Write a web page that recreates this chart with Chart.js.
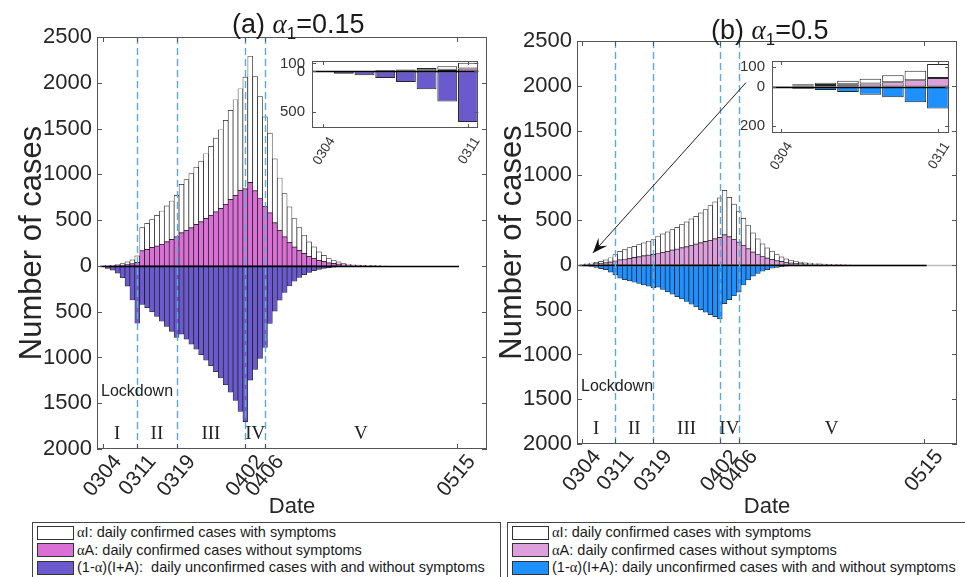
<!DOCTYPE html>
<html>
<head>
<meta charset="utf-8">
<script src="https://cdn.jsdelivr.net/npm/chart.js@4.4.1/dist/chart.umd.min.js"></script>
<style>
  body { margin: 0; background: #fff; width: 965px; height: 577px; overflow: hidden; position: relative;
         font-family: "Liberation Sans", Arial, sans-serif; color: #1a1a1a; }
  canvas { position: absolute; }
  .title { position: absolute; font-size: 27px; white-space: nowrap; line-height: 30px; }
  .title sub { font-size: 17px; }
  .greek { font-family: "Liberation Serif", serif; font-style: italic; }
  .legend { position: absolute; border: 1px solid #444; background: #fff; font-size: 14.5px; padding-top: 1px; }
  .row { height: 17.5px; display: flex; align-items: center; white-space: nowrap; }
  .sw { display: inline-block; width: 35px; height: 12px; border: 1px solid #333; margin: 0 3px 0 4px; }
  .legend .greek { font-style: normal; }
</style>
</head>
<body>
<canvas id="mainA" width="500" height="520" style="left:0;top:0"></canvas>
<canvas id="mainB" width="485" height="520" style="left:480px;top:0"></canvas>
<canvas id="insetA" width="210" height="130" style="left:278px;top:45px"></canvas>
<canvas id="insetB" width="220" height="130" style="left:738px;top:45px"></canvas>

<div class="title" style="left:232px;top:9px">(a) <span class="greek">α</span><sub>1</sub>=0.15</div>
<div class="title" style="left:711px;top:15px">(b) <span class="greek">α</span><sub>1</sub>=0.5</div>

<div class="legend" style="left:32px;top:522px;width:467px;height:60px">
  <div class="row"><span class="sw" style="background:#ffffff"></span><span><span class="greek">α</span>I: daily confirmed cases with symptoms</span></div>
  <div class="row"><span class="sw" style="background:#da70d6"></span><span><span class="greek">α</span>A: daily confirmed cases without symptoms</span></div>
  <div class="row"><span class="sw" style="background:#6a5acd"></span><span>(1-<span class="greek">α</span>)(I+A):&nbsp; daily unconfirmed cases with and without symptoms</span></div>
</div>
<div class="legend" style="left:507px;top:522px;width:470px;height:60px">
  <div class="row"><span class="sw" style="background:#ffffff"></span><span><span class="greek">α</span>I: daily confirmed cases with symptoms</span></div>
  <div class="row"><span class="sw" style="background:#dda0dd"></span><span><span class="greek">α</span>A: daily confirmed cases without symptoms</span></div>
  <div class="row"><span class="sw" style="background:#1e90ff"></span><span>(1-<span class="greek">α</span>)(I+A): daily unconfirmed cases with and without symptoms</span></div>
</div>

<script>
// ? DATA
// ! ========================== ! \\
const dates = [
  "0304","0305","0306","0307","0308","0309","0310","0311","0312","0313",
  "0314","0315","0316","0317","0318","0319","0320","0321","0322","0323",
  "0324","0325","0326","0327","0328","0329","0330","0331","0401","0402",
  "0403","0404","0405","0406","0407","0408","0409","0410","0411","0412",
  "0413","0414","0415","0416","0417","0418","0419","0420","0421","0422",
  "0423","0424","0425","0426","0427","0428","0429","0430","0501","0502",
  "0503","0504","0505","0506","0507","0508","0509","0510","0511","0512",
  "0513","0514","0515"
];
const tickDates = ["0304", "0311", "0319", "0402", "0406", "0515"];
const phaseDates = ["0311", "0319", "0402", "0406"];
const phaseNames = ["I", "II", "III", "IV", "V"];
const insetDates = ["0304", "0311"];

// (a) alpha1 = 0.15
const symA = [
  0, 3, 4, 9, 16, 28, 43, 73, 254, 287,
  305, 338, 364, 393, 422, 455, 531, 553, 592, 629,
  665, 709, 752, 807, 862, 916, 974, 1044, 1110, 1222,
  1381, 1248, 1114, 976, 873, 701, 571, 474, 387, 310,
  251, 201, 157, 124, 92, 70, 48, 37, 26, 15,
  11, 7, 5, 4, 2, 2, 1, 1, 0, 0,
  0, 0, 0, 0, 0, 0, 0, 0, 0, 0,
  0, 0, 0
];
const asymA = [
  0, 1, 3, 5, 9, 15, 22, 36, 164, 178,
  200, 215, 236, 262, 287, 316, 360, 389, 415, 451,
  480, 516, 553, 589, 625, 673, 724, 771, 825, 840,
  909, 820, 736, 651, 578, 469, 389, 316, 258, 206,
  167, 134, 105, 83, 61, 46, 32, 25, 18, 10,
  7, 5, 4, 2, 2, 1, 1, 0, 0, 0,
  0, 0, 0, 0, 0, 0, 0, 0, 0, 0,
  0, 0, 0
];
const unconfA = [
  3, 29, 47, 80, 130, 221, 373, 627, 420, 455,
  502, 552, 605, 660, 715, 780, 745, 800, 855, 910,
  970, 1030, 1090, 1155, 1225, 1300, 1380, 1470, 1590, 1702,
  1247, 1131, 1011, 891, 629, 495, 375, 290, 220, 168,
  127, 95, 71, 52, 38, 27, 19, 13, 9, 6,
  4, 3, 2, 1, 1, 0, 0, 0, 0, 0,
  0, 0, 0, 0, 0, 0, 0, 0, 0, 0,
  0, 0, 0
];

// (b) alpha1 = 0.5
const symB = [
  0, 7, 12, 17, 24, 35, 48, 72, 97, 108,
  119, 126, 138, 145, 156, 168, 190, 205, 216, 230,
  245, 260, 279, 297, 312, 334, 357, 387, 413, 443,
  497, 441, 395, 343, 303, 259, 214, 174, 140, 114,
  92, 69, 53, 40, 31, 25, 18, 13, 12, 9,
  7, 5, 4, 2, 2, 1, 1, 0, 0, 0,
  0, 0, 0, 0, 0, 0, 0, 0, 0, 0,
  0, 0, 0
];
const asymB = [
  0, 5, 8, 12, 16, 22, 32, 43, 55, 63,
  74, 82, 89, 100, 108, 115, 130, 141, 152, 164,
  175, 190, 201, 216, 231, 246, 260, 275, 290, 305,
  335, 313, 283, 253, 216, 180, 143, 116, 94, 76,
  61, 46, 36, 27, 21, 16, 12, 9, 7, 6,
  4, 3, 2, 2, 1, 1, 0, 0, 0, 0,
  0, 0, 0, 0, 0, 0, 0, 0, 0, 0,
  0, 0, 0
];
const unconfB = [
  2, 11, 18, 28, 41, 54, 80, 112, 149, 164,
  179, 194, 208, 223, 238, 257, 249, 275, 301, 327,
  354, 380, 409, 439, 469, 499, 528, 555, 577, 603,
  432, 387, 345, 305, 225, 168, 125, 95, 70, 52,
  38, 28, 20, 14, 10, 7, 5, 3, 2, 1,
  1, 0, 0, 0, 0, 0, 0, 0, 0, 0,
  0, 0, 0, 0, 0, 0, 0, 0, 0, 0,
  0, 0, 0
];

Chart.defaults.font.family = "'Liberation Sans', Arial, sans-serif";
Chart.defaults.color = "#262626";

const tickColor = "#262626";
const edge = "rgba(0,0,0,0.85)";
const dashBlue = "#5aa9e0";

// ? HELPERS
// ! ========================== ! \\
function makeSets(sym, asym, unconf, pink, dark, count, pct, bw) {
  const pts = (arr, sign) => arr.slice(0, count).map((v, k) => ({ x: k, y: sign * v }));
  const base = { borderColor: edge, borderWidth: bw, borderSkipped: false,
                 barPercentage: pct, categoryPercentage: 1, stack: "s" };
  return [
    { ...base, label: "αA", data: pts(asym, 1), backgroundColor: pink },
    { ...base, label: "αI", data: pts(sym, 1), backgroundColor: "#ffffff" },
    { ...base, label: "(1-α)(I+A)", data: pts(unconf, -1), backgroundColor: dark },
  ];
}

function line(ctx, x1, y1, x2, y2) {
  ctx.beginPath();
  ctx.moveTo(x1, y1);
  ctx.lineTo(x2, y2);
  ctx.stroke();
}

// white plot area, box and inward tick marks
const framePlugin = {
  id: "frame",
  beforeDatasetsDraw(chart) {
    const { ctx, chartArea: a } = chart;
    ctx.save();
    ctx.fillStyle = "#fff";
    ctx.fillRect(a.left, a.top, a.right - a.left, a.bottom - a.top);
    ctx.restore();
  },
  afterDraw(chart, args, opts) {
    const { ctx, chartArea: a, scales: { x, y } } = chart;
    const t = opts.tick || 5;
    ctx.save();
    ctx.strokeStyle = "#555";
    ctx.lineWidth = 1;
    ctx.strokeRect(Math.round(a.left) + 0.5, Math.round(a.top) + 0.5,
                   Math.round(a.right - a.left) - 1, Math.round(a.bottom - a.top) - 1);
    x.ticks.forEach((tk) => {
      const p = Math.round(x.getPixelForValue(tk.value)) + 0.5;
      line(ctx, p, a.bottom, p, a.bottom - t);
      line(ctx, p, a.top, p, a.top + t);
    });
    y.ticks.forEach((tk) => {
      const p = Math.round(y.getPixelForValue(tk.value)) + 0.5;
      line(ctx, a.left, p, a.left + t, p);
      line(ctx, a.right, p, a.right - t, p);
    });
    ctx.restore();
  },
};

// zero line, phase lines, phase names, arrow
const marksPlugin = {
  id: "marks",
  afterDatasetsDraw(chart, args, o) {
    const { ctx, chartArea: a, scales: { x, y } } = chart;
    const y0 = Math.round(y.getPixelForValue(0)) + 0.5;
    const n = chart.data.datasets[0].data.length;
    ctx.save();
    ctx.lineWidth = 1.3;
    if (o.tail) {
      ctx.strokeStyle = "#bbb";
      line(ctx, a.left, y0, a.right, y0);
    }
    ctx.strokeStyle = "#000";
    const xa = o.full ? a.left : x.getPixelForValue(-0.5);
    const xb = o.full ? a.right : x.getPixelForValue(n - 0.5);
    line(ctx, xa, y0, xb, y0);

    if (o.phases) {
      ctx.strokeStyle = dashBlue;
      ctx.lineWidth = 1.4;
      ctx.setLineDash([7, 4]);
      phaseDates.forEach((d) => {
        const px = Math.round(x.getPixelForValue(dates.indexOf(d))) + 0.5;
        line(ctx, px, a.top, px, a.bottom);
      });
      ctx.setLineDash([]);

      const bounds = [x.min, ...phaseDates.map((d) => dates.indexOf(d)), dates.length - 1];
      ctx.fillStyle = "#222";
      ctx.font = '19px "Liberation Serif", serif';
      ctx.textAlign = "center";
      ctx.textBaseline = "middle";
      phaseNames.forEach((name, i) => {
        ctx.fillText(name, x.getPixelForValue((bounds[i] + bounds[i + 1]) / 2), a.bottom - 15);
      });
      ctx.font = '16px "Liberation Sans", Arial, sans-serif';
      ctx.textAlign = "left";
      ctx.fillText("Lockdown", a.left + 4, a.bottom - 57);
    }

    if (o.arrow) {
      const x1 = x.getPixelForValue(o.arrow.from[0]), y1 = y.getPixelForValue(o.arrow.from[1]);
      const x2 = x.getPixelForValue(o.arrow.to[0]), y2 = y.getPixelForValue(o.arrow.to[1]);
      const ang = Math.atan2(y2 - y1, x2 - x1);
      ctx.strokeStyle = "#222";
      ctx.fillStyle = "#111";
      ctx.lineWidth = 1;
      line(ctx, x1, y1, x2, y2);
      const L = 15, W = 6;
      ctx.beginPath();
      ctx.moveTo(x2, y2);
      ctx.lineTo(x2 - L * Math.cos(ang) + W * Math.sin(ang), y2 - L * Math.sin(ang) - W * Math.cos(ang));
      ctx.lineTo(x2 - 0.6 * L * Math.cos(ang), y2 - 0.6 * L * Math.sin(ang));
      ctx.lineTo(x2 - L * Math.cos(ang) - W * Math.sin(ang), y2 - L * Math.sin(ang) + W * Math.cos(ang));
      ctx.closePath();
      ctx.fill();
    }
    ctx.restore();
  },
};

// ? MAIN PANELS
// ! ========================== ! \\
function mainChart(id, c) {
  return new Chart(document.getElementById(id), {
    type: "bar",
    data: { datasets: makeSets(c.sym, c.asym, c.unconf, c.pink, c.dark, dates.length, 1, 0.7) },
    options: {
      responsive: false,
      animation: false,
      events: [],
      layout: { padding: c.pad },
      plugins: {
        legend: { display: false },
        tooltip: { enabled: false },
        frame: { tick: 5 },
        marks: { phases: true, tail: c.tail, arrow: c.arrow },
      },
      scales: {
        x: {
          type: "linear", stacked: true, offset: false, min: c.xmin, max: c.xmax,
          afterBuildTicks: (s) => { s.ticks = tickDates.map((d) => ({ value: dates.indexOf(d) })); },
          afterFit: (s) => { s.height = c.xh; },
          grid: { display: false, drawTicks: false },
          border: { display: false },
          ticks: { autoSkip: false, minRotation: 50, maxRotation: 50, padding: 1, labelOffset: 15,
                   font: { size: 21 }, color: tickColor, callback: (v) => dates[v] },
          title: { display: true, text: "Date", font: { size: 22 }, color: tickColor, padding: { top: 0, bottom: 0 } },
        },
        y: {
          stacked: true, min: -2000, max: 2500,
          afterFit: (s) => { s.width = 97; },
          grid: { display: false, drawTicks: false },
          border: { display: false },
          ticks: { stepSize: 500, padding: 5, font: { size: 22 }, color: tickColor,
                   callback: (v) => String(Math.abs(v)) },
          title: { display: true, text: "Number of cases", font: { size: 31 }, color: tickColor,
                   padding: { top: 14, bottom: 0 } },
        },
      },
    },
    plugins: [framePlugin, marksPlugin],
  });
}

// ? INSETS (0304 - 0311)
// ! ========================== ! \\
function insetChart(id, c) {
  return new Chart(document.getElementById(id), {
    type: "bar",
    data: { datasets: makeSets(c.sym, c.asym, c.unconf, c.pink, c.dark, dates.indexOf("0311") + 1, 0.96, 1) },
    options: {
      responsive: false,
      animation: false,
      events: [],
      layout: { padding: c.pad },
      plugins: {
        legend: { display: false },
        tooltip: { enabled: false },
        frame: { tick: 4 },
        marks: { full: true },
      },
      scales: {
        x: {
          type: "linear", stacked: true, offset: false, min: c.xmin, max: c.xmax,
          afterBuildTicks: (s) => { s.ticks = insetDates.map((d) => ({ value: dates.indexOf(d) })); },
          afterFit: (s) => { s.height = c.xh; },
          grid: { display: false, drawTicks: false },
          border: { display: false },
          ticks: { autoSkip: false, minRotation: 58, maxRotation: 58, padding: 6, labelOffset: 9,
                   font: { size: 13.5 }, color: "#333", callback: (v) => dates[v] },
        },
        y: {
          stacked: true, min: c.ymin, max: c.ymax,
          afterBuildTicks: (s) => { s.ticks = c.yticks.map((v) => ({ value: v })); },
          afterFit: (s) => { s.width = 34; },
          grid: { display: false, drawTicks: false },
          border: { display: false },
          ticks: { padding: 7, font: { size: 15 }, color: "#333", callback: (v) => String(Math.abs(v)) },
        },
      },
    },
    plugins: [framePlugin, marksPlugin],
  });
}

mainChart("mainA", {
  sym: symA, asym: asymA, unconf: unconfA, pink: "#da70d6", dark: "#6a5acd",
  xmin: -1.2, xmax: 78.2, xh: 71, pad: { left: 0, top: 37, right: 13, bottom: 0 }, tail: false,
});
mainChart("mainB", {
  sym: symB, asym: asymB, unconf: unconfB, pink: "#dda0dd", dark: "#1e90ff",
  xmin: -1.05, xmax: 78.9, xh: 76, pad: { left: 0, top: 41, right: 8, bottom: 0 }, tail: true,
  arrow: { from: [34.5, 2035], to: [2.3, 134] },
});
insetChart("insetA", {
  sym: symA, asym: asymA, unconf: unconfA, pink: "#da70d6", dark: "#6a5acd",
  xmin: -0.54, xmax: 7.5, ymin: -700, ymax: 130, yticks: [100, 0, -500],
  xh: 47, pad: { left: 0, top: 7, right: 5, bottom: 0 },
});
insetChart("insetB", {
  sym: symB, asym: asymB, unconf: unconfB, pink: "#dda0dd", dark: "#1e90ff",
  xmin: -0.38, xmax: 7.5, ymin: -236, ymax: 130, yticks: [100, 0, -200],
  xh: 42, pad: { left: 0, top: 8, right: 6, bottom: 0 },
});
</script>
</body>
</html>
